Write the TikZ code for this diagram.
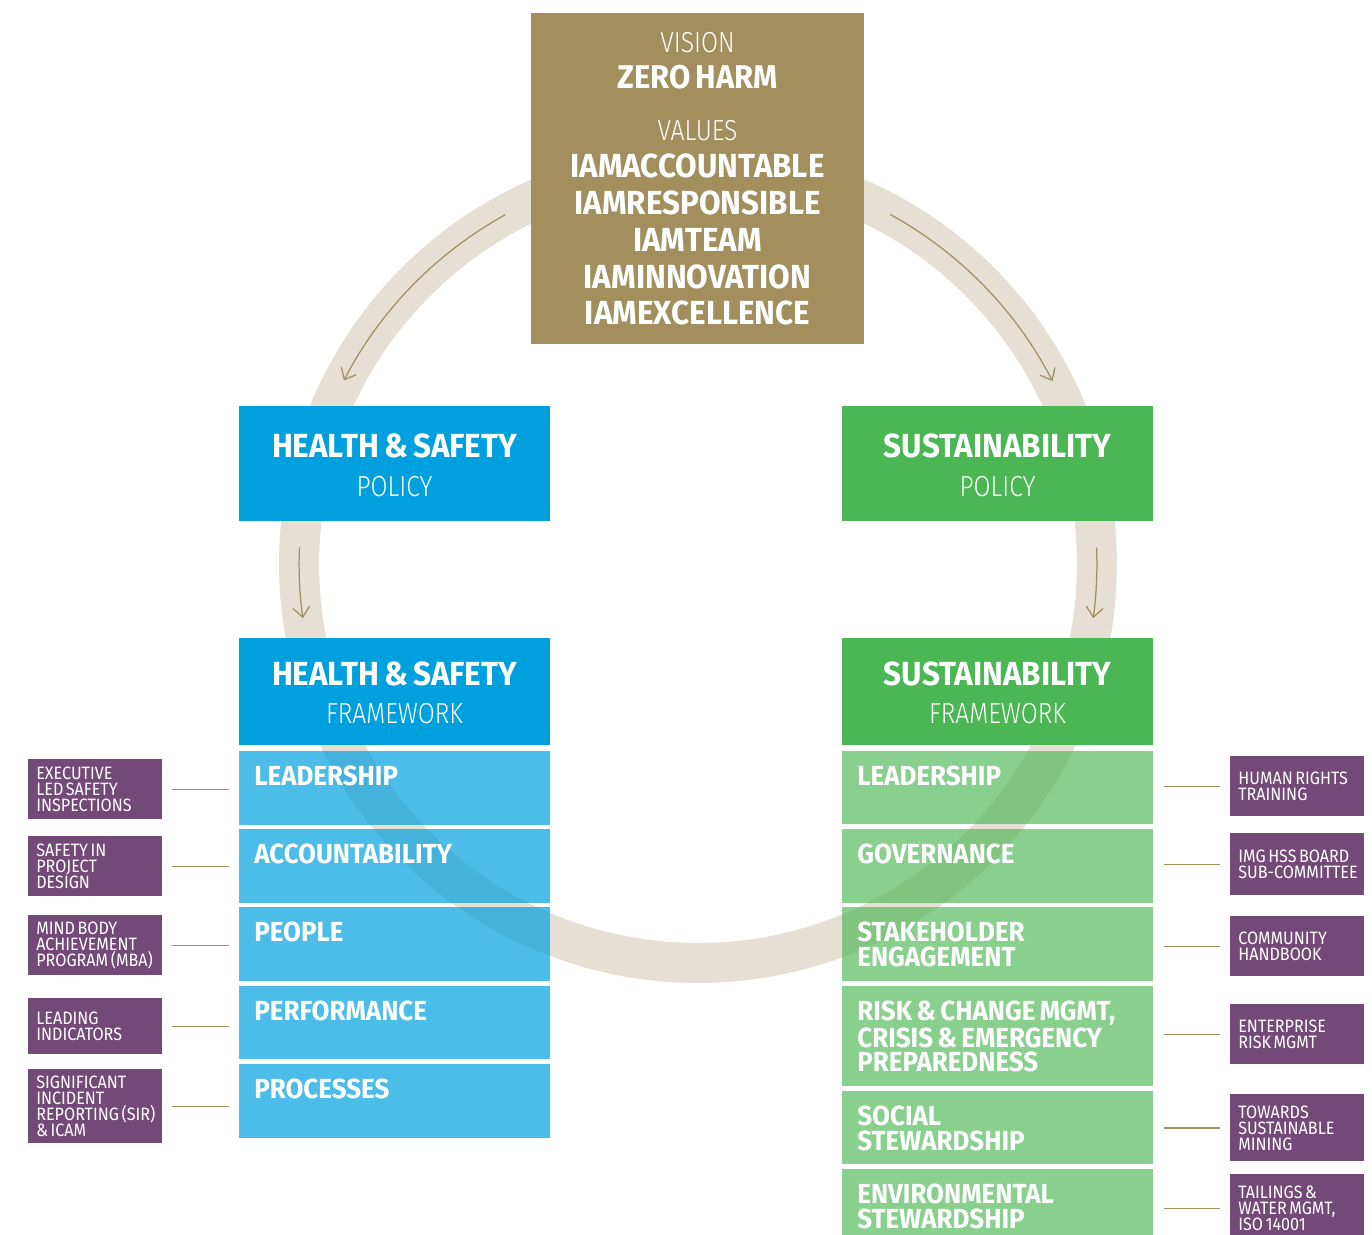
\documentclass[tikz,border=0pt]{standalone}
\usepackage{fontspec}
\setmainfont{Fira Sans}[FakeStretch=0.94,WordSpace=0.7]
\newfontfamily\thinfont{Fira Sans Light}[FakeStretch=0.85]
\newfontfamily\tagfont{Fira Sans}[FakeStretch=0.9,WordSpace=0.6]
\usetikzlibrary{arrows.meta}

\definecolor{gold}{RGB}{163,143,94}
\definecolor{ringtone}{RGB}{230,223,211}
\definecolor{hsblue}{RGB}{0,160,223}
\definecolor{sgreen}{RGB}{74,183,84}
\definecolor{plum}{RGB}{115,73,119}

\tikzset{
 box/.style={anchor=north west,inner sep=0,minimum width=6.22cm},
 hshead/.style={box,fill=hsblue},
 shead/.style={box,fill=sgreen},
 hsbar/.style={box,fill=hsblue,fill opacity=0.7},
 sbar/.style={box,fill=sgreen,fill opacity=0.65},
 bartext/.style={anchor=north west,inner sep=0,xshift=0.3cm,yshift=-0.3cm,text=white,align=left,
   font=\bfseries\fontsize{15.7}{13.7}\selectfont},
 headtext/.style={anchor=base,inner sep=0,text=white,font=\bfseries\fontsize{19}{19}\selectfont},
 subtext/.style={anchor=base,inner sep=0,text=white,font=\thinfont\fontsize{16.5}{16.5}\selectfont},
 tagbox/.style={anchor=north west,fill=plum,inner sep=0,minimum width=2.68cm,minimum height=1.2cm},
 tagtext/.style={anchor=west,inner sep=0,xshift=0.16cm,text=white,align=left,
   font=\tagfont\fontsize{10.2}{9.1}\selectfont},
 link/.style={draw=gold,line width=0.8pt},
 flow/.style={draw=gold,line width=0.7pt,-{Straight Barb[length=0.2cm,width=0.34cm]}},
}

\begin{document}
\begin{tikzpicture}[x=0.02cm,y=-0.02cm]
 \path[use as bounding box,fill=white] (0,0) rectangle (1372,1234);

 % ring and flow arrows
 \coordinate (hub) at (698,564);
 \draw[ringtone,line width=0.8cm] (hub) circle[radius=7.98cm];
 \draw[flow] ([shift={(hub)}]118.9:7.98cm) arc[start angle=118.9,end angle=152.6,radius=7.98cm];
 \draw[flow] ([shift={(hub)}]61.2:7.98cm) arc[start angle=61.2,end angle=27.3,radius=7.98cm];
 \draw[flow] ([shift={(hub)}]177.6:7.98cm) arc[start angle=177.6,end angle=187.8,radius=7.98cm];
 \draw[flow] ([shift={(hub)}]2.4:7.98cm) arc[start angle=2.4,end angle=-7.8,radius=7.98cm];

 % vision and values
 \node[anchor=north west,inner sep=0,fill=gold,minimum width=6.66cm,minimum height=6.62cm] (vision) at (531,13) {};
 \node[subtext] (visionlbl) at (697.5,52) {VISION};
 \node[headtext,font=\bfseries\fontsize{18.7}{18.7}\selectfont] (zeroharm) at (697.5,88) {ZERO HARM};
 \node[subtext] (valueslbl) at (697.5,140) {VALUES};
 \node[anchor=north,inner sep=0,text=white,align=center,
   font=\bfseries\fontsize{19}{21.05}\selectfont] (values) at (697.5,153)
   {IAMACCOUNTABLE\\IAMRESPONSIBLE\\IAMTEAM\\IAMINNOVATION\\IAMEXCELLENCE};

 % health & safety column
 \node[hshead,minimum height=2.3cm] (hspol) at (239,406) {};
 \node[headtext] (hspolt) at (394.5,457) {HEALTH \& SAFETY};
 \node[subtext] (hspols) at (394.5,496) {POLICY};
 \node[hshead,minimum height=2.14cm] (hsfw) at (239,638) {};
 \node[headtext] (hsfwt) at (394.5,685) {HEALTH \& SAFETY};
 \node[subtext] (hsfws) at (394.5,723) {FRAMEWORK};

 \node[hsbar,minimum height=1.48cm] (hs1) at (239,751) {};
 \node[hsbar,minimum height=1.48cm] (hs2) at (239,829) {};
 \node[hsbar,minimum height=1.48cm] (hs3) at (239,907) {};
 \node[hsbar,minimum height=1.46cm] (hs4) at (239,986) {};
 \node[hsbar,minimum height=1.48cm] (hs5) at (239,1064) {};
 \node[bartext] (hs1t) at (hs1.north west) {LEADERSHIP};
 \node[bartext] (hs2t) at (hs2.north west) {ACCOUNTABILITY};
 \node[bartext] (hs3t) at (hs3.north west) {PEOPLE};
 \node[bartext] (hs4t) at (hs4.north west) {PERFORMANCE};
 \node[bartext] (hs5t) at (hs5.north west) {PROCESSES};

 \node[tagbox] (hsx1) at (28,759) {};
 \node[tagbox] (hsx2) at (28,836) {};
 \node[tagbox] (hsx3) at (28,915) {};
 \node[tagbox,minimum height=1.12cm] (hsx4) at (28,998) {};
 \node[tagbox,minimum height=1.48cm] (hsx5) at (28,1069) {};
 \node[tagtext] (hsx1t) at (hsx1.west) {EXECUTIVE\\LED SAFETY\\INSPECTIONS};
 \node[tagtext] (hsx2t) at (hsx2.west) {SAFETY IN\\PROJECT\\DESIGN};
 \node[tagtext] (hsx3t) at (hsx3.west) {MIND BODY\\ACHIEVEMENT\\PROGRAM (MBA)};
 \node[tagtext] (hsx4t) at (hsx4.west) {LEADING\\INDICATORS};
 \node[tagtext] (hsx5t) at (hsx5.west) {SIGNIFICANT\\INCIDENT\\REPORTING (SIR)\\\& ICAM};

 \draw[link,shorten <=0.18cm,shorten >=0.2cm] (hsx1.east) -- (hsx1.east -| hs1.west);
 \draw[link,shorten <=0.18cm,shorten >=0.2cm] (hsx2.east) -- (hsx2.east -| hs2.west);
 \draw[link,shorten <=0.18cm,shorten >=0.2cm] (hsx3.east) -- (hsx3.east -| hs3.west);
 \draw[link,shorten <=0.18cm,shorten >=0.2cm] (hsx4.east) -- (hsx4.east -| hs4.west);
 \draw[link,shorten <=0.18cm,shorten >=0.2cm] (hsx5.east) -- (hsx5.east -| hs5.west);

 % sustainability column
 \node[shead,minimum height=2.3cm] (spol) at (842,406) {};
 \node[headtext] (spolt) at (997.5,457) {SUSTAINABILITY};
 \node[subtext] (spols) at (997.5,496) {POLICY};
 \node[shead,minimum height=2.14cm] (sfw) at (842,638) {};
 \node[headtext] (sfwt) at (997.5,685) {SUSTAINABILITY};
 \node[subtext] (sfws) at (997.5,723) {FRAMEWORK};

 \node[sbar,minimum height=1.46cm] (s1) at (842,751) {};
 \node[sbar,minimum height=1.48cm] (s2) at (842,829) {};
 \node[sbar,minimum height=1.48cm] (s3) at (842,907) {};
 \node[sbar,minimum height=2cm] (s4) at (842,986) {};
 \node[sbar,minimum height=1.46cm] (s5) at (842,1091) {};
 \node[sbar,minimum height=1.32cm] (s6) at (842,1169) {};
 \node[bartext] (s1t) at (s1.north west) {LEADERSHIP};
 \node[bartext] (s2t) at (s2.north west) {GOVERNANCE};
 \node[bartext] (s3t) at (s3.north west) {STAKEHOLDER\\ENGAGEMENT};
 \node[bartext] (s4t) at (s4.north west) {RISK \& CHANGE MGMT,\\CRISIS \& EMERGENCY\\PREPAREDNESS};
 \node[bartext] (s5t) at (s5.north west) {SOCIAL\\STEWARDSHIP};
 \node[bartext] (s6t) at (s6.north west) {ENVIRONMENTAL\\STEWARDSHIP};

 \node[tagbox] (sx1) at (1230,756) {};
 \node[tagbox,minimum height=1.24cm] (sx2) at (1230,833) {};
 \node[tagbox] (sx3) at (1230,916) {};
 \node[tagbox] (sx4) at (1230,1004) {};
 \node[tagbox,minimum height=1.34cm] (sx5) at (1230,1094) {};
 \node[tagbox,minimum height=1.36cm] (sx6) at (1230,1174) {};
 \node[tagtext] (sx1t) at (sx1.west) {HUMAN RIGHTS\\TRAINING};
 \node[tagtext] (sx2t) at (sx2.west) {IMG HSS BOARD\\SUB-COMMITTEE};
 \node[tagtext] (sx3t) at (sx3.west) {COMMUNITY\\HANDBOOK};
 \node[tagtext] (sx4t) at (sx4.west) {ENTERPRISE\\RISK MGMT};
 \node[tagtext] (sx5t) at (sx5.west) {TOWARDS\\SUSTAINABLE\\MINING};
 \node[tagtext] (sx6t) at (sx6.west) {TAILINGS \&\\WATER MGMT,\\ISO 14001};

 \draw[link,shorten <=0.2cm,shorten >=0.2cm] (sx1.west -| s1.east) -- (sx1.west);
 \draw[link,shorten <=0.2cm,shorten >=0.2cm] (sx2.west -| s2.east) -- (sx2.west);
 \draw[link,shorten <=0.2cm,shorten >=0.2cm] (sx3.west -| s3.east) -- (sx3.west);
 \draw[link,shorten <=0.2cm,shorten >=0.2cm] (sx4.west -| s4.east) -- (sx4.west);
 \draw[link,shorten <=0.2cm,shorten >=0.2cm] (sx5.west -| s5.east) -- (sx5.west);
 \draw[link,shorten <=0.2cm,shorten >=0.2cm] (sx6.west -| s6.east) -- (sx6.west);
\end{tikzpicture}
\end{document}
